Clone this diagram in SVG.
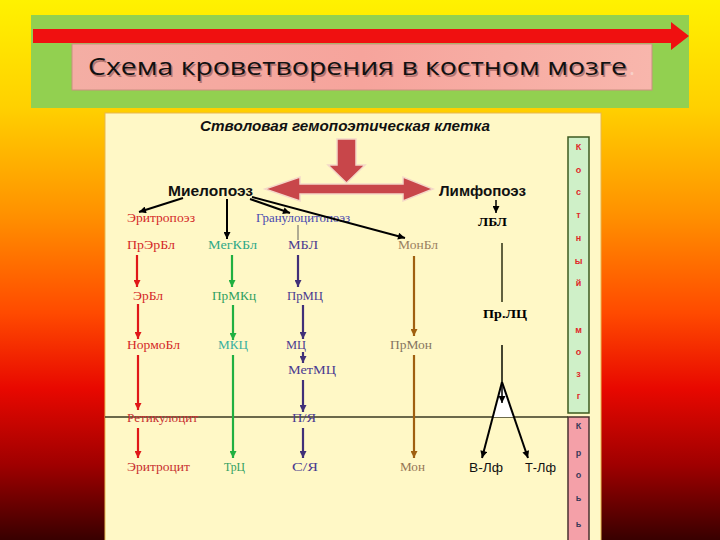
<svg xmlns="http://www.w3.org/2000/svg" width="720" height="540" viewBox="0 0 720 540">
<defs>
<linearGradient id="bg" x1="0" y1="0" x2="0" y2="1">
<stop offset="0" stop-color="#FFF200"/>
<stop offset="0.2" stop-color="#FFD000"/>
<stop offset="0.4" stop-color="#FF9000"/>
<stop offset="0.58" stop-color="#FF4A00"/>
<stop offset="0.72" stop-color="#E80800"/>
<stop offset="0.86" stop-color="#A00000"/>
<stop offset="1" stop-color="#380000"/>
</linearGradient>
<linearGradient id="pinkbox" x1="0" y1="0" x2="1" y2="0">
<stop offset="0" stop-color="#F4AEA4"/>
<stop offset="0.5" stop-color="#F6A49C"/>
<stop offset="1" stop-color="#F8B6AC"/>
</linearGradient>
<marker id="mRed" viewBox="0 0 10 10" refX="10" refY="5" markerWidth="7" markerHeight="7" markerUnits="userSpaceOnUse" orient="auto"><path d="M0,0 L10,5 L0,10 Z" fill="#E01818"/></marker>
<marker id="mGreen" viewBox="0 0 10 10" refX="10" refY="5" markerWidth="7" markerHeight="7" markerUnits="userSpaceOnUse" orient="auto"><path d="M0,0 L10,5 L0,10 Z" fill="#20B040"/></marker>
<marker id="mPurple" viewBox="0 0 10 10" refX="10" refY="5" markerWidth="7" markerHeight="7" markerUnits="userSpaceOnUse" orient="auto"><path d="M0,0 L10,5 L0,10 Z" fill="#403078"/></marker>
<marker id="mBrown" viewBox="0 0 10 10" refX="10" refY="5" markerWidth="7" markerHeight="7" markerUnits="userSpaceOnUse" orient="auto"><path d="M0,0 L10,5 L0,10 Z" fill="#A06010"/></marker>
<marker id="mBlack" viewBox="0 0 10 10" refX="10" refY="5" markerWidth="8" markerHeight="7" markerUnits="userSpaceOnUse" orient="auto"><path d="M0,0 L10,5 L0,10 Z" fill="#000"/></marker>
</defs>
<style>
.lbl{font-family:"Liberation Serif","Times New Roman",serif;font-size:13px}
.red{fill:#D42828}
.grn{fill:#30A060}
.tea{fill:#30A888}
.pur{fill:#4A3A90}
.brn{fill:#9A8060}
.blk{fill:#000}
.bold{font-weight:bold}
.side{font-family:"Liberation Sans",Arial,sans-serif;font-size:9px;font-weight:bold;text-anchor:middle}
.ar{fill:none;stroke-width:2.2}
</style>

<rect x="0" y="0" width="720" height="540" fill="url(#bg)"/>

<g id="banner">
<rect x="31" y="15" width="658" height="93" fill="#92D050"/>
<path d="M33,29 L671,29 L671,22 L689,36 L671,50 L671,43 L33,43 Z" fill="#F01010"/>
<rect x="72" y="44" width="580" height="46" fill="url(#pinkbox)" stroke="#C89080" stroke-width="1"/>
<text x="89.5" y="76.5" font-family="'Open Sans','Noto Sans',sans-serif" font-size="23" fill="#7a4040" textLength="539" lengthAdjust="spacingAndGlyphs" opacity="0.5">Схема кроветворения в костном мозге</text>
<text x="88" y="75" font-family="'Open Sans','Noto Sans',sans-serif" font-size="23" fill="#111" textLength="539" lengthAdjust="spacingAndGlyphs">Схема кроветворения в костном мозге</text>
<text x="629" y="75" font-family="'Open Sans',sans-serif" font-size="23" fill="#F8D0C8">.</text>
</g>

<rect x="105" y="113" width="496" height="430" fill="#FFF8C6" stroke="#E8B850" stroke-width="1"/>

<g id="marrow-box">
<rect x="568" y="137" width="21" height="276" fill="#CFF0C8" stroke="#3E5A20" stroke-width="1.5"/>
<g class="side" fill="#E02828">
<text x="578.5" y="150">К</text>
<text x="578.5" y="173">о</text>
<text x="578.5" y="195">с</text>
<text x="578.5" y="218">т</text>
<text x="578.5" y="241">н</text>
<text x="578.5" y="264">ы</text>
<text x="578.5" y="286">й</text>
<text x="578.5" y="333">м</text>
<text x="578.5" y="355">о</text>
<text x="578.5" y="377">з</text>
<text x="578.5" y="399">г</text>
</g>
</g>
<g id="blood-box">
<rect x="568" y="417" width="21" height="126" fill="#F4A0A8" stroke="#4A3030" stroke-width="1.5"/>
<g class="side" fill="#3A3A5A">
<text x="578.5" y="429">К</text>
<text x="578.5" y="456">р</text>
<text x="578.5" y="478">о</text>
<text x="578.5" y="501">ь</text>
<text x="578.5" y="527">ь</text>
</g>
</g>

<line x1="105" y1="417" x2="568" y2="417" stroke="#3A3A20" stroke-width="1.5"/>

<g id="stem">
<text x="200" y="131" font-family="'Liberation Sans',Arial,sans-serif" font-size="14" font-weight="bold" font-style="italic" fill="#111" textLength="290" lengthAdjust="spacingAndGlyphs">Стволовая гемопоэтическая клетка</text>
</g>

<g id="big-arrows">
<path d="M337,139 L356,139 L356,165 L365,165 L346.5,183 L328,165 L337,165 Z" fill="#C8464A" stroke="#F4D8C8" stroke-width="1.5"/>
<path d="M265,189 L300,177 L300,184 L403,184 L403,177 L433,189 L403,201 L403,194 L300,194 L300,201 Z" fill="#C8464A" stroke="#F4D8C8" stroke-width="1.5"/>
</g>

<g id="myelo"><text x="168" y="196" font-family="'Liberation Sans',Arial,sans-serif" font-size="15" font-weight="bold" fill="#111" textLength="85" lengthAdjust="spacingAndGlyphs">Миелопоэз</text></g>
<g id="lympho"><text x="439" y="196" font-family="'Liberation Sans',Arial,sans-serif" font-size="15" font-weight="bold" fill="#111" textLength="87" lengthAdjust="spacingAndGlyphs">Лимфопоэз</text></g>

<g id="nodes" class="lbl">
<g id="n-eritropoez"><text class="red" x="127" y="222" textLength="68" lengthAdjust="spacingAndGlyphs">Эритропоэз</text></g>
<g id="n-granulo"><text x="256" y="222" fill="#4848B0" textLength="94" lengthAdjust="spacingAndGlyphs">Гранулоцитопоэз</text></g>
<g id="n-prerbl"><text class="red" x="127" y="249" textLength="48" lengthAdjust="spacingAndGlyphs">ПрЭрБл</text></g>
<g id="n-megkbl"><text class="tea" x="208" y="249" textLength="49" lengthAdjust="spacingAndGlyphs">МегКБл</text></g>
<g id="n-mbl"><text class="pur" x="288" y="249" textLength="30" lengthAdjust="spacingAndGlyphs">МБЛ</text></g>
<g id="n-monbl"><text class="brn" x="398" y="249" textLength="40" lengthAdjust="spacingAndGlyphs">МонБл</text></g>
<g id="n-lbl"><text class="blk bold" x="478" y="226" textLength="29" lengthAdjust="spacingAndGlyphs">ЛБЛ</text></g>
<g id="n-erbl"><text class="red" x="133" y="300" textLength="30" lengthAdjust="spacingAndGlyphs">ЭрБл</text></g>
<g id="n-prmkc"><text class="grn" x="212" y="300" textLength="44" lengthAdjust="spacingAndGlyphs">ПрМКц</text></g>
<g id="n-prmc"><text class="pur" x="287" y="300" textLength="36" lengthAdjust="spacingAndGlyphs">ПрМЦ</text></g>
<g id="n-prlc"><text class="blk bold" x="483" y="318" textLength="44" lengthAdjust="spacingAndGlyphs">Пр.ЛЦ</text></g>
<g id="n-normobl"><text class="red" x="127" y="349" textLength="53" lengthAdjust="spacingAndGlyphs">НормоБл</text></g>
<g id="n-mkc"><text x="218" y="349" fill="#38B0A0" textLength="30" lengthAdjust="spacingAndGlyphs">МКЦ</text></g>
<g id="n-mc"><text class="pur" x="286" y="349" textLength="20" lengthAdjust="spacingAndGlyphs">МЦ</text></g>
<g id="n-prmon"><text x="390" y="349" fill="#857560" textLength="42" lengthAdjust="spacingAndGlyphs">ПрМон</text></g>
<g id="n-metmc"><text class="pur" x="288" y="374" textLength="48" lengthAdjust="spacingAndGlyphs">МетМЦ</text></g>
<g id="n-retik"><text x="127" y="422" fill="#C83030" textLength="71" lengthAdjust="spacingAndGlyphs">Ретикулоцит</text></g>
<g id="n-pya"><text class="pur" x="292" y="422" textLength="24" lengthAdjust="spacingAndGlyphs">П/Я</text></g>
<g id="n-eritrocit"><text x="127" y="471" fill="#C83030" textLength="63" lengthAdjust="spacingAndGlyphs">Эритроцит</text></g>
<g id="n-trc"><text class="grn" x="224" y="471" textLength="21" lengthAdjust="spacingAndGlyphs">ТрЦ</text></g>
<g id="n-sya"><text class="pur" x="292" y="471" textLength="26" lengthAdjust="spacingAndGlyphs">С/Я</text></g>
<g id="n-mon"><text x="400" y="471" fill="#957555" textLength="25" lengthAdjust="spacingAndGlyphs">Мон</text></g>
<g id="n-blf"><text x="469" y="472" font-family="'Liberation Sans',Arial,sans-serif" font-size="13" fill="#111" textLength="34" lengthAdjust="spacingAndGlyphs">В-Лф</text></g>
<g id="n-tlf"><text x="525" y="472" font-family="'Liberation Sans',Arial,sans-serif" font-size="13" fill="#111" textLength="31" lengthAdjust="spacingAndGlyphs">Т-Лф</text></g>
</g>

<g id="connectors">
<!-- from Миелопоэз -->
<line x1="183" y1="198" x2="139" y2="212" stroke="#000" stroke-width="2" marker-end="url(#mBlack)"/>
<line x1="227" y1="199" x2="227" y2="239" stroke="#000" stroke-width="2" marker-end="url(#mBlack)"/>
<line x1="250" y1="199" x2="290" y2="213" stroke="#000" stroke-width="2" marker-end="url(#mBlack)"/>
<line x1="252" y1="197" x2="405" y2="238" stroke="#000" stroke-width="2" marker-end="url(#mBlack)"/>
<line x1="298" y1="225" x2="298" y2="240" stroke="#606060" stroke-width="1"/>
<line x1="496" y1="200" x2="496" y2="213" stroke="#000" stroke-width="1.5" marker-end="url(#mBlack)"/>
<!-- red -->
<g stroke="#E01818" class="ar">
<line x1="137" y1="255" x2="137" y2="287" marker-end="url(#mRed)"/>
<line x1="138" y1="304" x2="138" y2="339" marker-end="url(#mRed)"/>
<line x1="138" y1="355" x2="138" y2="410" marker-end="url(#mRed)"/>
<line x1="138" y1="428" x2="138" y2="458" marker-end="url(#mRed)"/>
</g>
<!-- green -->
<g stroke="#20B040" class="ar">
<line x1="232" y1="255" x2="232" y2="287" marker-end="url(#mGreen)"/>
<line x1="233" y1="305" x2="233" y2="340" marker-end="url(#mGreen)"/>
<line x1="233" y1="355" x2="233" y2="458" marker-end="url(#mGreen)"/>
</g>
<!-- purple -->
<g stroke="#403078" class="ar">
<line x1="298" y1="255" x2="298" y2="287" marker-end="url(#mPurple)"/>
<line x1="303" y1="305" x2="303" y2="339" marker-end="url(#mPurple)"/>
<line x1="303" y1="352" x2="303" y2="363" marker-end="url(#mPurple)"/>
<line x1="303" y1="380" x2="303" y2="412" marker-end="url(#mPurple)"/>
<line x1="303" y1="428" x2="303" y2="458" marker-end="url(#mPurple)"/>
</g>
<!-- brown -->
<g stroke="#A06010" class="ar">
<line x1="414" y1="256" x2="414" y2="336" marker-end="url(#mBrown)"/>
<line x1="414" y1="355" x2="414" y2="458" marker-end="url(#mBrown)"/>
</g>
<!-- lymphoid -->
<line x1="502" y1="243" x2="502" y2="302" stroke="#505030" stroke-width="1.8"/>
<line x1="502" y1="345" x2="502" y2="382" stroke="#303020" stroke-width="1.8"/>
<polygon points="502,382 493,417 514,417" fill="#FFFFFF"/>
<line x1="502" y1="385" x2="502" y2="403" stroke="#000" stroke-width="1.5" marker-end="url(#mBlack)"/>
<line x1="502" y1="382" x2="482" y2="458" stroke="#000" stroke-width="2" marker-end="url(#mBlack)"/>
<line x1="502" y1="382" x2="528" y2="458" stroke="#000" stroke-width="2" marker-end="url(#mBlack)"/>
</g>
</svg>
